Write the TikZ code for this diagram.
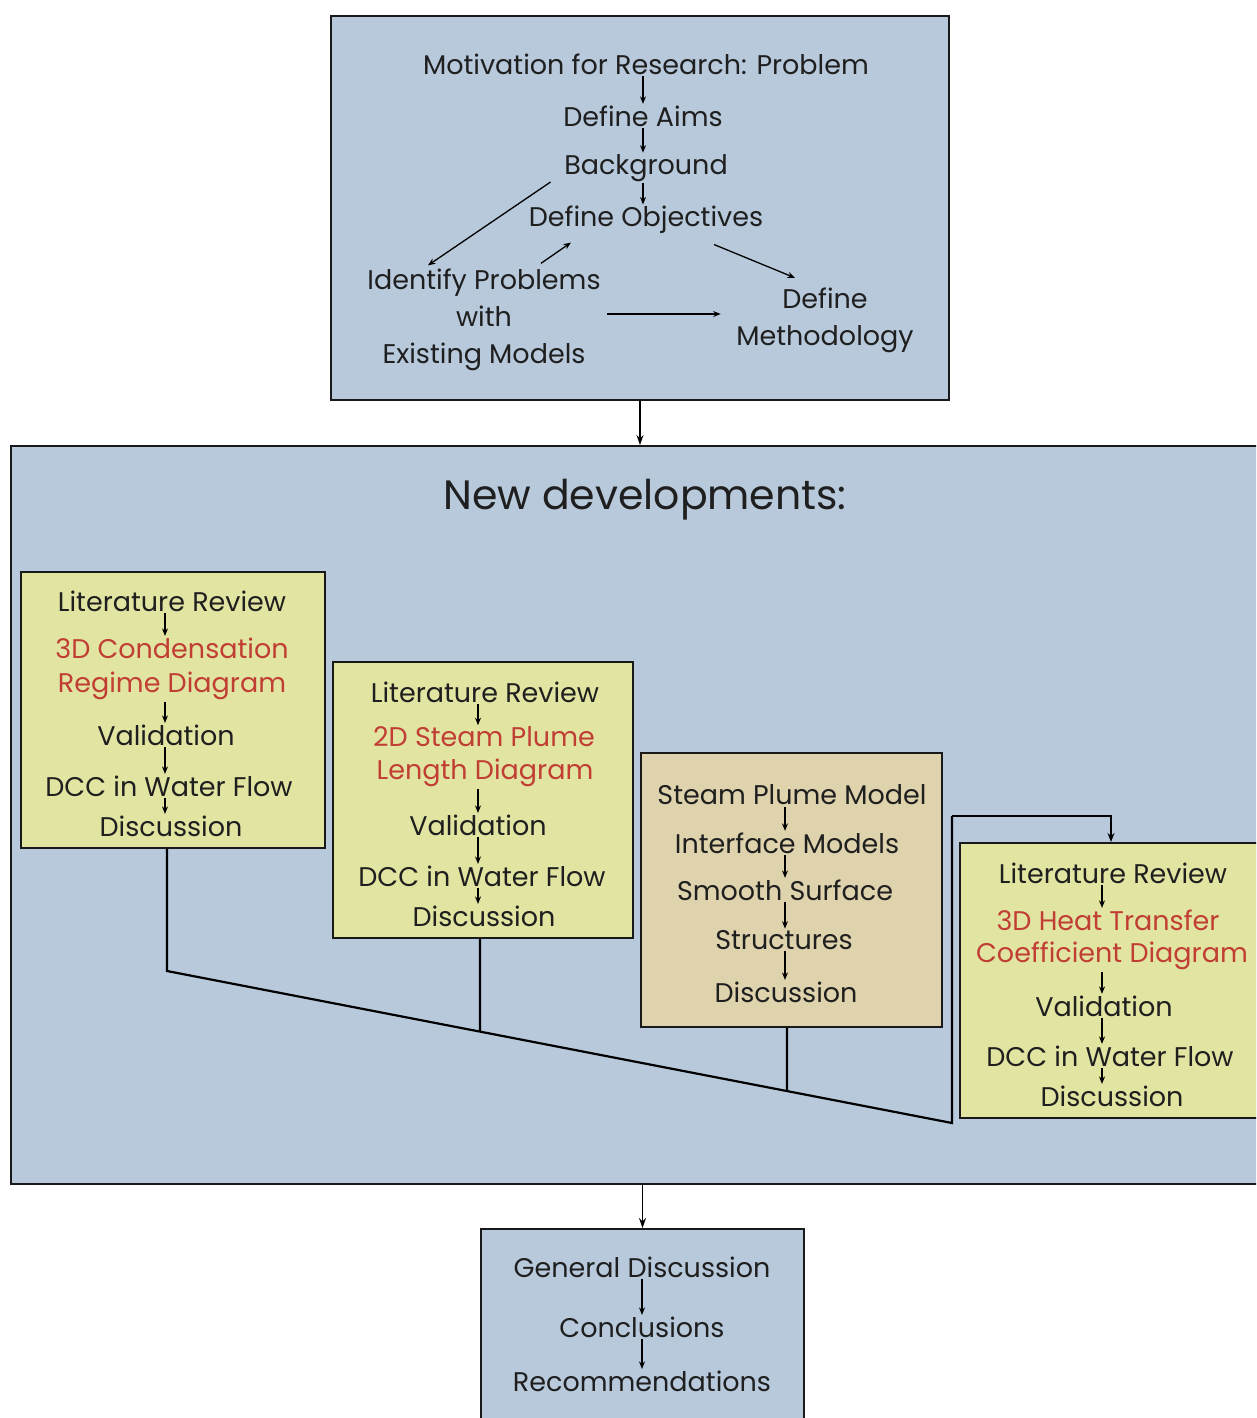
\documentclass[tikz,border=0pt]{standalone}
\usepackage{fontspec}
\setmainfont{Poppins}
\usetikzlibrary{arrows.meta,calc}
\definecolor{bluebg}{RGB}{183,201,219}
\definecolor{yellbox}{RGB}{226,229,162}
\definecolor{tanbox}{RGB}{222,211,173}
\definecolor{redtxt}{RGB}{192,62,52}
\begin{document}
\begin{tikzpicture}[x=1pt,y=-1pt,
  tt/.style={font=\fontsize{27}{37}\selectfont, inner sep=1.5pt, text=black!88},
  bt/.style={font=\fontsize{27}{30}\selectfont, inner sep=1.5pt, text=black!88},
  rt/.style={bt, text=redtxt},
  arr/.style={-{Stealth[length=7.5pt,width=6pt]}, line width=1.3pt},
  bigarr/.style={-{Stealth[length=10pt,width=7pt]}, line width=1.4pt},
  conn/.style={line width=2.2pt},
  box/.style={draw=black!90, line width=2pt, inner sep=0pt},
]
\clip (0,0) rectangle (1256,1418);
\fill[white] (0,0) rectangle (1256,1418);

% ---------- top box ----------
\node[box, fill=bluebg, minimum width=618pt, minimum height=384pt] (top) at (640,208) {};
\node[tt] (mot) at (646,64) {Motivation for Research: Problem};
\node[tt] (aims) at (643,116) {Define Aims};
\node[tt] (bg) at (646,168) {Background};
\node[tt] (obj) at (646,220) {Define Objectives};
\node[tt, align=center] (idp) at (484,320) {Identify Problems\\with\\Existing Models};
\node[tt, align=center] (meth) at (825,320) {Define\\Methodology};

\draw[arr] (mot.south -| aims) -- (aims.north);
\draw[arr] (aims.south) -- (aims.south |- bg.north);
\draw[arr] (aims.south |- bg.south) -- (aims.south |- obj.north);
\draw[arr] ([shift={(-12,14)}]bg.west) -- ([shift={(-56,-2)}]idp.north);
\draw[arr] ([shift={(57,-4)}]idp.north) -- ([shift={(-75,7)}]obj.south);
\draw[arr] ([shift={(68,9)}]obj.south) -- ([shift={(-30,-8)}]meth.north);
\draw[arr] ([xshift=5pt,yshift=6pt]idp.east) -- ([xshift=-14pt,yshift=6pt]meth.west);

% ---------- big box ----------
\node[box, fill=bluebg, minimum width=1264pt, minimum height=738pt] (big) at (643,815) {};
\draw[bigarr] (top.south) -- (top.south |- big.north);
\node[font=\fontsize{41}{46}\selectfont, text=black!88] (nd) at (645,500) {New developments:};

% box 1
\node[box, fill=yellbox, minimum width=304pt, minimum height=276pt] (b1) at (173,710) {};
\coordinate (ax1) at (165,0);
\node[bt] (a1) at (172,601) {Literature Review};
\node[rt] (a2) at (172,648) {3D Condensation};
\node[rt] (a3) at (172,686) {Regime Diagram};
\node[bt] (a4) at (166,735) {Validation};
\node[bt] (a5) at (169,786) {DCC in Water Flow};
\node[bt] (a6) at (171,826) {Discussion};
\draw[arr] (a1.south -| ax1) -- (a2.north -| ax1);
\draw[arr] (a3.south -| ax1) -- (a4.north -| ax1);
\draw[arr] (a4.south -| ax1) -- (a5.north -| ax1);
\draw[arr] (a5.south -| ax1) -- (a6.north -| ax1);

% box 2
\node[box, fill=yellbox, minimum width=300pt, minimum height=276pt] (b2) at (483,800) {};
\coordinate (ax2) at (478,0);
\node[bt] (c1) at (485,692) {Literature Review};
\node[rt] (c2) at (484,737) {2D Steam Plume};
\node[rt] (c3) at (485,773) {Length Diagram};
\node[bt] (c4) at (478,825) {Validation};
\node[bt] (c5) at (482,876) {DCC in Water Flow};
\node[bt] (c6) at (484,916) {Discussion};
\draw[arr] (c1.south -| ax2) -- (c2.north -| ax2);
\draw[arr] (c3.south -| ax2) -- (c4.north -| ax2);
\draw[arr] (c4.south -| ax2) -- (c5.north -| ax2);
\draw[arr] (c5.south -| ax2) -- (c6.north -| ax2);

% box 3
\node[box, fill=tanbox, minimum width=301pt, minimum height=274pt] (b3) at (791.5,890) {};
\coordinate (ax3) at (785,0);
\node[bt] (e1) at (792,795) {Steam Plume Model};
\node[bt] (e2) at (787,843) {Interface Models};
\node[bt] (e3) at (785,890) {Smooth Surface};
\node[bt] (e4) at (784,940) {Structures};
\node[bt] (e5) at (786,992) {Discussion};
\draw[arr] (e1.south -| ax3) -- (e2.north -| ax3);
\draw[arr] (e2.south -| ax3) -- (e3.north -| ax3);
\draw[arr] (e3.south -| ax3) -- (e4.north -| ax3);
\draw[arr] (e4.south -| ax3) -- (e5.north -| ax3);

% box 4
\node[box, fill=yellbox, minimum width=302pt, minimum height=275pt] (b4) at (1111,980.5) {};
\coordinate (ax4) at (1102,0);
\node[bt] (f1) at (1113,873) {Literature Review};
\node[rt] (f2) at (1108,920) {3D Heat Transfer};
\node[rt] (f3) at (1112,956) {Coefficient Diagram};
\node[bt] (f4) at (1104,1006) {Validation};
\node[bt] (f5) at (1110,1056) {DCC in Water Flow};
\node[bt] (f6) at (1112,1096) {Discussion};
\draw[arr] (f1.south -| ax4) -- (f2.north -| ax4);
\draw[arr] (f3.south -| ax4) -- (f4.north -| ax4);
\draw[arr] (f4.south -| ax4) -- (f5.north -| ax4);
\draw[arr] (f5.south -| ax4) -- (f6.north -| ax4);

% connectors
\coordinate (d1) at (167,971);
\coordinate (d2) at (952,1123);
\coordinate (d3) at (952,816);
\coordinate (b2x) at ([yshift=-300pt]b2.south);
\coordinate (b3x) at ([yshift=-300pt]b3.south);
\draw[conn, line join=miter] ([xshift=-6pt]b1.south) -- (d1) -- (d2) -- (d3);
\draw[conn, -{Stealth[length=9pt,width=7pt]}] (d3) -| (b4.north);
\draw[conn] ([xshift=-3pt]b2.south) -- (intersection of {[xshift=-3pt]b2.south}--{[xshift=-3pt]b2x} and d1--d2);
\draw[conn] ([xshift=-4.5pt]b3.south) -- (intersection of {[xshift=-4.5pt]b3.south}--{[xshift=-4.5pt]b3x} and d1--d2);

% ---------- bottom box ----------
\node[box, fill=bluebg, minimum width=323pt, minimum height=210pt] (bot) at (642.5,1334) {};
\draw[bigarr] (big.south -| bot.north) -- (bot.north);
\node[tt] (g1) at (642,1267) {General Discussion};
\node[tt] (g2) at (642,1327) {Conclusions};
\node[tt] (g3) at (642,1381) {Recommendations};
\draw[arr] (g1.south) -- (g1.south |- g2.north);
\draw[arr] (g2.south) -- (g2.south |- g3.north);
\end{tikzpicture}
\end{document}
